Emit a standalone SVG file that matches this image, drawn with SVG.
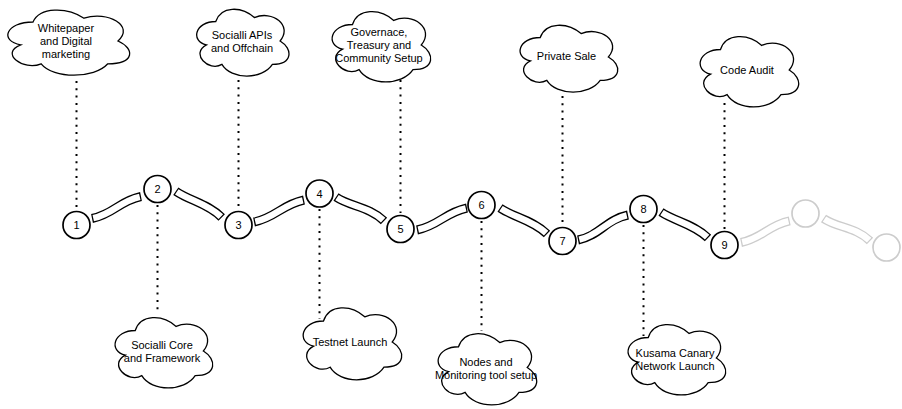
<svg xmlns="http://www.w3.org/2000/svg" xmlns:xlink="http://www.w3.org/1999/xlink" width="902" height="409" viewBox="0 0 902 409">
<style>
.cl{fill:#fff;stroke:#000;stroke-width:1.3;vector-effect:non-scaling-stroke}
.t{font-family:"Liberation Sans",Arial,sans-serif;font-size:11px;text-anchor:middle;fill:#000}
.n{fill:#fff;stroke:#000;stroke-width:1.7}
.g{fill:#fff;stroke:#ccc;stroke-width:1.7}
.dot{fill:none;stroke:#000;stroke-width:2;stroke-dasharray:2 5.3}
.bo{fill:none;stroke:#000;stroke-width:9}
.bi{fill:none;stroke:#fff;stroke-width:6.4;stroke-dasharray:0 2.2 95.6 2.2}
.go{fill:none;stroke:#ccc;stroke-width:9}
</style>
<defs>
<path id="cloud" class="cl" d="M25,25 C5,25 0,50 16,55 C0,66 18,90 31,80 C40,100 70,100 80,80 C100,80 100,60 87.5,50 C100,30 80,10 62.5,20 C50,5 30,5 25,25 Z"/>
</defs>
<g id="connectors">
<line class="dot" x1="76.5" y1="81" x2="76.5" y2="209"/>
<line class="dot" x1="157.5" y1="205" x2="157.5" y2="314"/>
<line class="dot" x1="238.5" y1="80" x2="238.5" y2="209"/>
<line class="dot" x1="319.5" y1="209" x2="319.5" y2="319"/>
<line class="dot" x1="400.5" y1="80" x2="400.5" y2="213"/>
<line class="dot" x1="481.5" y1="221" x2="481.5" y2="331"/>
<line class="dot" x1="562.5" y1="96" x2="562.5" y2="225"/>
<line class="dot" x1="643.5" y1="225" x2="643.5" y2="336"/>
<line class="dot" x1="724.5" y1="103" x2="724.5" y2="229"/>
<g>
<path class="bo" d="M92,218.5 C114,214 119,201 141,196.5"/>
<path class="bi" pathLength="100" d="M92,218.5 C114,214 119,201 141,196.5"/>
<path class="bo" d="M175.8,191.2 C190,201 208,203.5 221.7,217.5"/>
<path class="bi" pathLength="100" d="M175.8,191.2 C190,201 208,203.5 221.7,217.5"/>
<path class="bo" d="M254,222 C276,217.5 282,204.5 304,200"/>
<path class="bi" pathLength="100" d="M254,222 C276,217.5 282,204.5 304,200"/>
<path class="bo" d="M336,197 C350,206.5 370,207 384,221"/>
<path class="bi" pathLength="100" d="M336,197 C350,206.5 370,207 384,221"/>
<path class="bo" d="M417,230 C439,225.5 445,212.5 467,208"/>
<path class="bi" pathLength="100" d="M417,230 C439,225.5 445,212.5 467,208"/>
<path class="bo" d="M500,208 C514,217.5 533,220 547,234"/>
<path class="bi" pathLength="100" d="M500,208 C514,217.5 533,220 547,234"/>
<path class="bo" d="M578,240 C600,235.5 606,219.5 628,215"/>
<path class="bi" pathLength="100" d="M578,240 C600,235.5 606,219.5 628,215"/>
<path class="bo" d="M661,212 C675,221.5 694,224 708,238"/>
<path class="bi" pathLength="100" d="M661,212 C675,221.5 694,224 708,238"/>
<path class="go" d="M741,242.5 C763,238 768,225.3 789.7,220.8"/>
<path class="bi" pathLength="100" d="M741,242.5 C763,238 768,225.3 789.7,220.8"/>
<path class="go" d="M823.5,218.5 C837.5,228 856,227 870,241"/>
<path class="bi" pathLength="100" d="M823.5,218.5 C837.5,228 856,227 870,241"/>
</g>
</g>
<g id="cloud1"><use xlink:href="#cloud" href="#cloud" transform="translate(-1,3) scale(1.36,0.76)"/><text class="t" x="66" y="32">Whitepaper</text><text class="t" x="66" y="45">and Digital</text><text class="t" x="66" y="58">marketing</text></g>
<g id="cloud2"><use href="#cloud" transform="translate(190,2) scale(1.03,0.78)"/><text class="t" x="242" y="38.5">Socialli APIs</text><text class="t" x="242" y="51.5">and Offchain</text></g>
<g id="cloud3"><use href="#cloud" transform="translate(325,4) scale(1.1,0.82)"/><text class="t" x="379" y="36">Governace,</text><text class="t" x="379" y="49">Treasury and</text><text class="t" x="379" y="62">Community Setup</text></g>
<g id="cloud4"><use href="#cloud" transform="translate(513,18) scale(1.09,0.78)"/><text class="t" x="566.5" y="60">Private Sale</text></g>
<g id="cloud5"><use href="#cloud" transform="translate(693,29) scale(1.1,0.82)"/><text class="t" x="747" y="74">Code Audit</text></g>
<g id="cloud6"><use href="#cloud" transform="translate(108,310) scale(1.09,0.82)"/><text class="t" x="162" y="349">Socialli Core</text><text class="t" x="162" y="362">and Framework</text></g>
<g id="cloud7"><use href="#cloud" transform="translate(296,300) scale(1.1,0.84)"/><text class="t" x="350" y="346">Testnet Launch</text></g>
<g id="cloud8"><use href="#cloud" transform="translate(431,326) scale(1.1,0.83)"/><text class="t" x="486" y="365.5">Nodes and</text><text class="t" x="486" y="378.5">Monitoring tool setup</text></g>
<g id="cloud9"><use href="#cloud" transform="translate(621,317) scale(1.09,0.82)"/><text class="t" x="675" y="356.5">Kusama Canary</text><text class="t" x="675" y="369.5">Network Launch</text></g>
<g id="node1"><circle class="n" cx="76.5" cy="225" r="13.5"/><text class="t" x="76.5" y="229">1</text></g>
<g id="node2"><circle class="n" cx="157.5" cy="189" r="13.5"/><text class="t" x="157.5" y="193">2</text></g>
<g id="node3"><circle class="n" cx="238.5" cy="225" r="13.5"/><text class="t" x="238.5" y="229">3</text></g>
<g id="node4"><circle class="n" cx="319.5" cy="193.5" r="13.5"/><text class="t" x="319.5" y="197.5">4</text></g>
<g id="node5"><circle class="n" cx="400.5" cy="229" r="13.5"/><text class="t" x="400.5" y="233">5</text></g>
<g id="node6"><circle class="n" cx="481.5" cy="205" r="13.5"/><text class="t" x="481.5" y="209">6</text></g>
<g id="node7"><circle class="n" cx="562.5" cy="241" r="13.5"/><text class="t" x="562.5" y="245">7</text></g>
<g id="node8"><circle class="n" cx="643.5" cy="209" r="13.5"/><text class="t" x="643.5" y="213">8</text></g>
<g id="node9"><circle class="n" cx="724.5" cy="245" r="13.5"/><text class="t" x="724.5" y="249">9</text></g>
<g id="node10"><circle class="g" cx="805.5" cy="213.5" r="13.5"/></g>
<g id="node11"><circle class="g" cx="886.5" cy="247.5" r="13.5"/></g>
</svg>
